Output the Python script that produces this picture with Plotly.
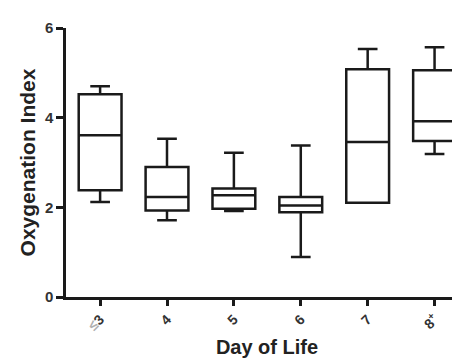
import plotly.graph_objects as go

categories = ["≤3", "4", "5", "6", "7", "8+"]
tick_labels = ["<span style='color:#b0b0b0'>≤</span>3", "4", "5", "6", "7", "8<sup>+</sup>"]
lower = [2.12, 1.71, 1.92, 0.89, 2.10, 3.19]
q1 = [2.38, 1.93, 1.97, 1.89, 2.10, 3.48]
median = [3.61, 2.23, 2.27, 2.04, 3.46, 3.92]
q3 = [4.52, 2.90, 2.42, 2.23, 5.08, 5.06]
upper = [4.70, 3.53, 3.22, 3.38, 5.53, 5.57]

xpos = list(range(len(categories)))

fig = go.Figure()
fig.add_trace(go.Box(
    x=xpos, q1=q1, median=median, q3=q3,
    lowerfence=lower, upperfence=upper,
    width=0.64, whiskerwidth=0.46,
    fillcolor="white",
    line=dict(color="#1a1a1a", width=2.5),
    boxpoints=False,
    showlegend=False,
))

font_family = "Liberation Sans, Arial, sans-serif"
fig.update_layout(
    width=460, height=363,
    margin=dict(l=58, r=0, t=20, b=74),
    plot_bgcolor="white", paper_bgcolor="white",
    font=dict(family=font_family, color="#222", size=13),
    xaxis=dict(
        range=[-0.51, 5.5], automargin=False,
        tickmode="array", tickvals=xpos, ticktext=tick_labels,
        tickangle=-45,
        showline=True, linecolor="#1a1a1a", linewidth=2.5,
        ticks="outside", ticklen=6, tickwidth=2.5, tickcolor="#1a1a1a",
        showgrid=False, zeroline=False,
        tickfont=dict(size=14, weight="bold", color="#333"),
        title=dict(text="Day of Life", font=dict(size=20, weight="bold", color="#222"), standoff=8),
    ),
    yaxis=dict(
        range=[0, 6], automargin=False,
        tickvals=[0, 2, 4, 6],
        showline=True, linecolor="#1a1a1a", linewidth=2.5,
        ticks="outside", ticklen=7, tickwidth=2.5, tickcolor="#1a1a1a",
        showgrid=False, zeroline=False,
        tickfont=dict(size=15, weight="bold", color="#333"),
        title=dict(text="Oxygenation Index", font=dict(size=21, weight="bold", color="#222"), standoff=4),
    ),
)

fig.write_html("out.html")
